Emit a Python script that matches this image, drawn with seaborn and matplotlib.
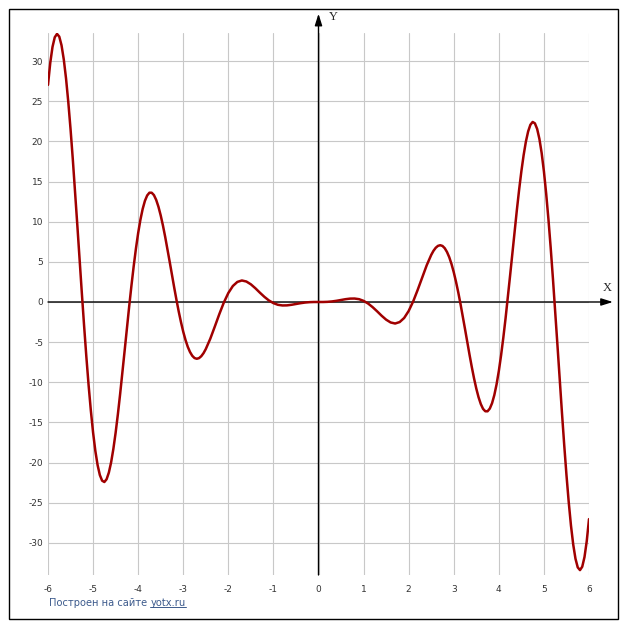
import matplotlib
matplotlib.use("Agg")
import matplotlib.pyplot as plt
import seaborn as sns
import pandas as pd
from matplotlib.patches import Rectangle
from matplotlib.lines import Line2D

# ---- data ----
x_vals = [-6.0, -5.95, -5.9, -5.85, -5.8, -5.75, -5.7, -5.65, -5.6, -5.55,
          -5.5, -5.45, -5.4, -5.35, -5.3, -5.25, -5.2, -5.15, -5.1, -5.05,
          -5.0, -4.95, -4.9, -4.85, -4.8, -4.75, -4.7, -4.65, -4.6, -4.55,
          -4.5, -4.45, -4.4, -4.35, -4.3, -4.25, -4.2, -4.15, -4.1, -4.05,
          -4.0, -3.95, -3.9, -3.85, -3.8, -3.75, -3.7, -3.65, -3.6, -3.55,
          -3.5, -3.45, -3.4, -3.35, -3.3, -3.25, -3.2, -3.15, -3.1, -3.05,
          -3.0, -2.95, -2.9, -2.85, -2.8, -2.75, -2.7, -2.65, -2.6, -2.55,
          -2.5, -2.4, -2.3, -2.2, -2.1,
          -2.0, -1.9, -1.8, -1.7, -1.6, -1.5, -1.4, -1.3, -1.2, -1.1,
          -1.0, -0.9, -0.8, -0.7, -0.6, -0.5, -0.4, -0.3, -0.2, -0.1,
          0.0,
          0.1, 0.2, 0.3, 0.4, 0.5, 0.6, 0.7, 0.8, 0.9, 1.0,
          1.1, 1.2, 1.3, 1.4, 1.5, 1.6, 1.7, 1.8, 1.9, 2.0,
          2.1, 2.2, 2.3, 2.4, 2.5,
          2.55, 2.6, 2.65, 2.7, 2.75, 2.8, 2.85, 2.9, 2.95, 3.0,
          3.05, 3.1, 3.15, 3.2, 3.25, 3.3, 3.35, 3.4, 3.45, 3.5,
          3.55, 3.6, 3.65, 3.7, 3.75, 3.8, 3.85, 3.9, 3.95, 4.0,
          4.05, 4.1, 4.15, 4.2, 4.25, 4.3, 4.35, 4.4, 4.45, 4.5,
          4.55, 4.6, 4.65, 4.7, 4.75, 4.8, 4.85, 4.9, 4.95, 5.0,
          5.05, 5.1, 5.15, 5.2, 5.25, 5.3, 5.35, 5.4, 5.45, 5.5,
          5.55, 5.6, 5.65, 5.7, 5.75, 5.8, 5.85, 5.9, 5.95, 6.0]

y_vals = [27.04, 29.78, 31.77, 32.97, 33.39, 33.05, 31.97, 30.21, 27.84, 24.91,
          21.53, 17.79, 13.78, 9.60, 5.36, 1.16, -2.91, -6.77, -10.32, -13.50,
          -16.26, -18.54, -20.31, -21.55, -22.25, -22.42, -22.07, -21.24, -19.97, -18.29,
          -16.28, -13.98, -11.46, -8.80, -6.06, -3.30, -0.59, 2.00, 4.42, 6.63,
          8.59, 10.25, 11.59, 12.60, 13.27, 13.61, 13.61, 13.31, 12.71, 11.86,
          10.78, 9.51, 8.09, 6.57, 4.98, 3.37, 1.78, 0.25, -1.20, -2.52,
          -3.71, -4.73, -5.58, -6.23, -6.70, -6.98, -7.07, -6.99, -6.75, -6.37,
          -5.86, -4.57, -3.06, -1.51, -0.07,
          1.12, 1.99, 2.50, 2.68, 2.55, 2.20, 1.71, 1.16, 0.64, 0.19,
          -0.14, -0.35, -0.43, -0.42, -0.35, -0.25, -0.15, -0.07, -0.02, -0.00,
          0.00,
          0.00, 0.02, 0.07, 0.15, 0.25, 0.35, 0.42, 0.43, 0.35, 0.14,
          -0.19, -0.64, -1.16, -1.71, -2.20, -2.55, -2.68, -2.50, -1.99, -1.12,
          0.07, 1.51, 3.06, 4.57, 5.86,
          6.37, 6.75, 6.99, 7.07, 6.98, 6.70, 6.23, 5.58, 4.73, 3.71,
          2.52, 1.20, -0.25, -1.78, -3.37, -4.98, -6.57, -8.09, -9.51, -10.78,
          -11.86, -12.71, -13.31, -13.61, -13.61, -13.27, -12.60, -11.59, -10.25, -8.59,
          -6.63, -4.42, -2.00, 0.59, 3.30, 6.06, 8.80, 11.46, 13.98, 16.28,
          18.29, 19.97, 21.24, 22.07, 22.42, 22.25, 21.55, 20.31, 18.54, 16.26,
          13.50, 10.32, 6.77, 2.91, -1.16, -5.36, -9.60, -13.78, -17.79, -21.53,
          -24.91, -27.84, -30.21, -31.97, -33.05, -33.39, -32.97, -31.77, -29.78, -27.04]

x_ticks = [-6, -5, -4, -3, -2, -1, 0, 1, 2, 3, 4, 5, 6]
y_ticks = [-30, -25, -20, -15, -10, -5, 0, 5, 10, 15, 20, 25, 30]
caption_main = "Построен на сайте "
caption_link = "yotx.ru"

df = pd.DataFrame({"x": x_vals, "y": y_vals})

sns.set_style("white")
plt.rcParams['font.family'] = ['DejaVu Sans']

W, H = 627, 630
fig = plt.figure(figsize=(W / 100, H / 100), dpi=100)
L, R, T, B = 48, 589, 33, 575
ax = fig.add_axes([L / W, 1 - B / H, (R - L) / W, (B - T) / H])

sns.lineplot(data=df, x="x", y="y", ax=ax, color="#a00000", linewidth=1.8,
             estimator=None, sort=False, zorder=5)

ax.set_xlim(-6, 6)
ax.set_ylim(-34.0, 33.5)
ax.set_xticks(x_ticks)
ax.set_yticks(y_ticks)
ax.set_xticklabels([str(t) for t in x_ticks])
ax.set_yticklabels([str(t) for t in y_ticks])
ax.grid(True, color="#c8c8c8", linewidth=0.8, zorder=0)
ax.set_axisbelow(True)
for s in ax.spines.values():
    s.set_visible(False)
ax.tick_params(axis="x", length=0, labelsize=6.5, labelcolor="#333333", pad=7)
ax.tick_params(axis="y", length=0, labelsize=6.5, labelcolor="#333333", pad=3.5)
ax.set_xlabel("")
ax.set_ylabel("")

arrow_kw = dict(arrowstyle="-|>,head_length=0.7,head_width=0.22", color="black",
                lw=1.0, shrinkA=0, shrinkB=0)
ax.annotate("", xy=(6.53, 0), xytext=(-6, 0), arrowprops=arrow_kw,
            annotation_clip=False, zorder=4)
ax.annotate("", xy=(0, 35.9), xytext=(0, -34.0), arrowprops=arrow_kw,
            annotation_clip=False, zorder=4)

ax.text(6.40, 1.7, "X", family="Liberation Serif", fontsize=9, ha="center",
        va="center", clip_on=False)
ax.text(0.32, 35.5, "Y", family="Liberation Serif", fontsize=9, ha="center",
        va="center", clip_on=False)

fig.add_artist(Rectangle((9 / W, 1 - 619 / H), 609 / W, 610 / H,
                         transform=fig.transFigure, fill=False,
                         edgecolor="black", linewidth=1.0))

cap_color = "#3c5a8c"
t1 = fig.text(49 / W, 1 - 603 / H, caption_main, color=cap_color, fontsize=7.1,
              va="center", ha="left")
fig.canvas.draw()
r = fig.canvas.get_renderer()
bb = t1.get_window_extent(r)
t2 = fig.text(bb.x1 / W, 1 - 603 / H, caption_link, color=cap_color, fontsize=7.1,
              va="center", ha="left")
fig.canvas.draw()
bb2 = t2.get_window_extent(r)
uy = (bb2.y0 + 1.0) / H
fig.add_artist(Line2D([bb2.x0 / W, bb2.x1 / W], [uy, uy], transform=fig.transFigure,
                      color=cap_color, linewidth=0.7))

fig.savefig("out.png", dpi=100, facecolor="white")
